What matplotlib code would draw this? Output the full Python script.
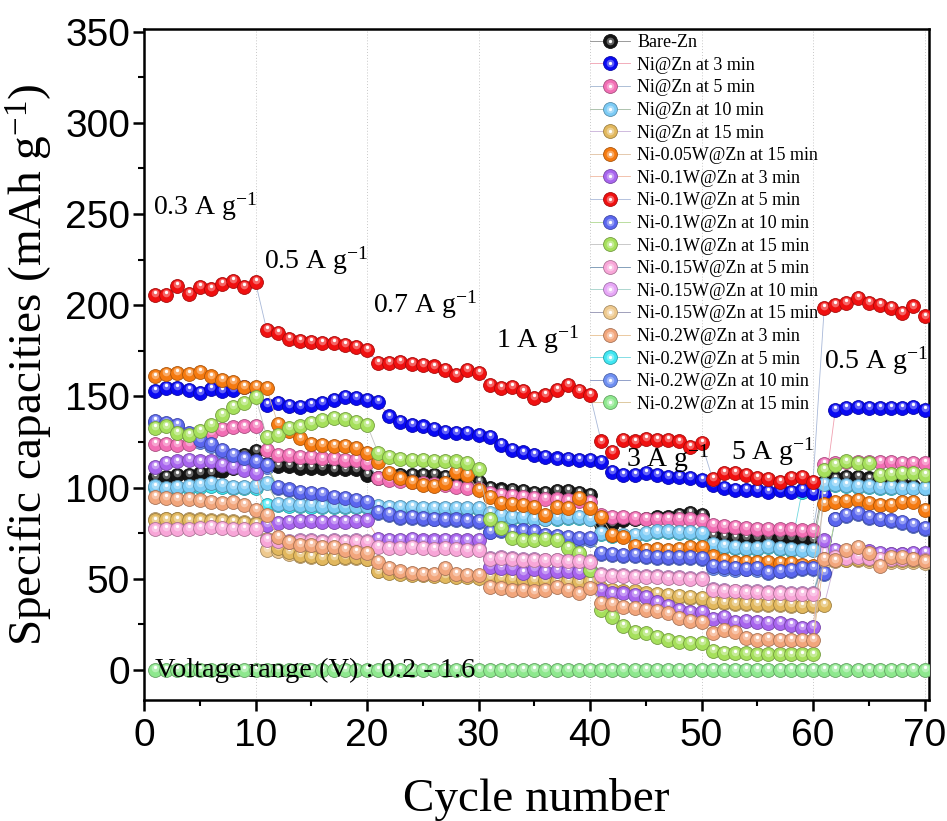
import numpy as np
import matplotlib
matplotlib.use("Agg")
import matplotlib.pyplot as plt
from matplotlib.transforms import offset_copy
from matplotlib.legend_handler import HandlerTuple
from matplotlib.colors import to_rgb

plt.rcParams['font.family'] = 'Liberation Sans'
plt.rcParams['mathtext.fontset'] = 'custom'
plt.rcParams['mathtext.rm'] = 'Liberation Serif'

cycles = np.arange(1, 71)

# specific capacity (mAh/g) per cycle, 10 cycles per rate step
bare_zn = [106, 106, 107, 107, 108, 108, 109, 111, 118, 120,
           113, 112, 112, 111, 111, 111, 110, 110, 110, 107,
           105, 106, 107, 107, 107, 107, 106, 107, 106, 103,
           100, 99, 98.5, 98, 97, 97, 98, 98, 97, 96,
           80, 80, 82, 83, 83, 84, 84, 85, 86, 85,
           73.5, 73, 72.5, 72.5, 72.5, 72.5, 72.5, 72.5, 72, 71.5,
           103, 105, 106, 106, 105, 104, 103, 102, 101, 100]
ni_3 = [153, 154.5, 154.5, 153.5, 152, 154, 153, 153.5, 155, 154,
        145.4, 146.3, 144.8, 144.1, 145.4, 146.3, 148.1, 149.9, 149, 148.1,
        146.8, 139, 136, 134.4, 133.5, 132, 130.5, 130.1, 130.1, 129,
        128, 123.4, 120.7, 119.3, 118, 117, 116, 115.5, 115, 115,
        114.2, 108.8, 107.1, 107, 107.9, 107, 106, 106, 105.1, 104.2,
        101.5, 99.7, 98.7, 98.7, 98.7, 97.8, 98.7, 97.8, 98.7, 97,
        96, 142.6, 143.5, 144.4, 143.5, 143.5, 143.5, 143.5, 144.4, 142.6]
ni_5 = [124, 124, 123.5, 124, 127, 130, 132, 133, 133.5, 134,
        120.7, 118, 118, 117, 117, 116, 116, 115.2, 115, 113.4,
        105, 104, 103.5, 103, 102.5, 102, 101.5, 100.5, 99.5, 99,
        97, 96, 95.5, 95, 94.5, 94, 93.5, 93, 92.5, 92,
        85, 84, 84, 83.5, 83, 83, 83, 83, 82.5, 82,
        79.5, 79, 78.5, 78, 77.5, 77.5, 77, 77, 76.5, 76.5,
        113, 113.5, 114, 114, 114, 114, 114, 113.5, 113.5, 113.5]
ni_10 = [100.6, 99.7, 100.2, 100.8, 101.5, 102.4, 101.5, 100.2, 100.2, 101,
         102.5, 91, 91, 90.5, 90.5, 90, 90, 90, 90, 90,
         90, 89.5, 89.5, 89.5, 89, 89, 89, 89, 88.7, 88.7,
         86, 85, 84, 84, 83, 83, 83.5, 84, 84, 83,
         75, 74, 74, 74, 75, 76, 76, 75.5, 75.5, 75,
         69, 68, 67.5, 67, 67, 68, 67, 66.5, 66, 66,
         102, 102, 101.5, 101, 101, 100.5, 100.5, 100, 100, 100]
ni_15 = [82, 82.5, 82.5, 82, 82, 81.5, 81.5, 81, 80.5, 80,
         72, 66.8, 64.9, 63.1, 62.2, 61.3, 61.3, 61.8, 61.8, 60.7,
         54, 53, 52.5, 52, 52, 51.5, 51.5, 51, 51, 50.5,
         51, 50.5, 50, 50, 49.5, 49.5, 49, 49, 48.5, 48.5,
         45, 44, 43, 43, 42, 41.5, 41, 40.5, 40, 39.5,
         37.5, 37, 36.5, 36.5, 36, 36, 36, 35.5, 35, 35.5,
         35.7, 60, 60.5, 61, 61, 60.5, 60, 60, 60, 59.5]
ni005w_15 = [161, 162.4, 163, 162.4, 163.6, 161, 159, 158, 155, 155,
             154.5, 135, 131, 127, 124, 123.4, 122.8, 122.8, 121.8, 119,
             114, 108, 105, 103.3, 101.5, 101, 102.4, 108.8, 107, 98.7,
             95, 91.4, 91, 90.5, 89.6, 85, 89.6, 88.7, 94.2, 88.7,
             84, 74, 73, 68, 66, 66.5, 66, 66.5, 67.5, 67.5,
             62.2, 60.3, 59.4, 59.4, 59.4, 59.4, 58.5, 58.5, 57.6, 57,
             91, 92, 92.5, 93.3, 91.5, 90.5, 90.5, 92.3, 92.3, 87.8]
ni01w_3 = [111.5, 113.4, 114.3, 115.2, 114.3, 114.3, 112.5, 111.5, 109.7, 107.9,
           79.5, 80.5, 81, 81.5, 81.5, 81, 81, 81, 81.5, 82,
           72, 71.5, 71.5, 72, 71, 71, 71.5, 71, 71, 71.3,
           56.7, 56, 55.8, 53, 55.5, 53.9, 54.5, 54.5, 53.9, 54.9,
           44, 42, 42, 41, 40, 37, 35, 33, 32, 32,
           28, 29.2, 26.5, 27, 26.5, 25.6, 25.6, 24.7, 22.9, 23.8,
           71, 66, 64, 63, 65, 64, 63.5, 63.5, 64, 64]
ni01w_5 = [205.7, 205.7, 210.6, 206.3, 210, 208.9, 211.7, 213.4, 210, 212.6,
           186.5, 184.7, 181.4, 180.6, 180.1, 179.5, 179.2, 178.3, 177, 175.5,
           168.5, 168.5, 169, 168, 167.3, 166.4, 164.6, 161.8, 164.6, 162.7,
           156.3, 154.5, 155.4, 152.8, 149, 150.9, 153.6, 156.3, 152.8, 150.9,
           125.3, 119.7, 126.2, 125.3, 126.5, 126, 126, 125.3, 122.5, 124.3,
           104.6, 107.9, 107.9, 107, 105.1, 104.6, 103.3, 105.1, 106, 103.3,
           198.4, 200.2, 201.1, 203.9, 201.1, 200.2, 198.4, 195.6, 199.3, 193.9]
ni01w_10 = [136.5, 135.5, 134.5, 130, 126, 124, 120.5, 118, 116, 114.3,
            112.5, 100.2, 99, 97.8, 97, 96.5, 95, 94.5, 93.3, 92.3,
            86.5, 85.5, 84, 84, 83.5, 83, 82.5, 82.5, 82, 81.5,
            75.9, 76.5, 76, 76.5, 76, 74.1, 73.5, 72.8, 72.2, 72.2,
            64, 63.5, 63, 63, 62.5, 62, 62, 62, 62, 61.5,
            57, 56.7, 56, 55.5, 56, 53.5, 54.5, 55, 56, 56,
            53, 83, 85, 86, 84, 83, 82, 81, 79.5, 77.7]
ni01w_15 = [132.6, 133.5, 129.8, 128.9, 131, 134.4, 139.9, 144.4, 146.3, 149.9,
            128, 128.9, 132.6, 133.5, 135.4, 137.1, 138.1, 137.5, 136.2, 134.4,
            119, 117, 115.5, 115, 115, 114.5, 114.5, 114.3, 113.4, 110,
            82.5, 78, 72.5, 71, 71, 72, 71.5, 67, 64, 55,
            33, 29, 24, 21, 20, 18, 16.5, 15.5, 15, 15,
            10.5, 9.5, 9, 9, 8.5, 8.5, 8.5, 8.5, 8.5, 8.5,
            109.7, 112.5, 114.3, 113.7, 113.4, 107, 107.5, 107.9, 107.9, 107]
ni015w_5 = [77, 77.5, 77.5, 77.5, 78, 78.5, 78, 77.5, 77.5, 77.5,
            71.5, 70.5, 70, 70.5, 70.5, 70, 70.5, 70, 70.5, 70,
            67.5, 67, 67, 67.5, 67, 66.5, 67, 66.5, 66, 66,
            61, 61.5, 61, 60.5, 60.5, 60, 60, 59.5, 59.5, 59,
            52, 51.5, 51.5, 51, 51, 51, 50.5, 50.5, 50, 50,
            44, 43.5, 43, 42.5, 42.5, 42, 42, 41.5, 41.5, 41.5,
            61, 62, 61.5, 62, 61.5, 61, 61, 61, 61, 60.5]
ni015w_10 = [78, 78.5, 78.5, 78.5, 79, 79, 79, 78.5, 78.5, 78,
             71, 71, 70.5, 71, 71, 70.5, 71, 70.5, 71, 70.5,
             68, 67.5, 67.5, 68, 67.5, 67, 67.5, 67, 66.5, 66.5,
             61.5, 62, 61.5, 61, 61, 60.5, 60.5, 60, 60, 59.5,
             52.5, 52, 52, 51.5, 51.5, 51.5, 51, 51, 50.5, 50.5,
             44.5, 44, 43.5, 43, 43, 42.5, 42.5, 42, 42, 42,
             64, 64.5, 64, 64.5, 64, 63.5, 63.5, 63.5, 63.5, 63]
ni015w_15 = [82.5, 83, 83, 82.5, 82.5, 82, 82, 81.5, 81, 80.5,
             66, 65, 63.5, 62.5, 62, 61.5, 61.5, 61.5, 61.5, 61,
             54.5, 53.5, 53, 52.5, 52.5, 52, 52, 51.5, 51.5, 51,
             50.5, 50, 49.5, 49.5, 49, 49, 48.5, 48.5, 48, 48,
             44.5, 43.5, 42.5, 42.5, 41.5, 41, 40.5, 40, 39.5, 39,
             37, 36.5, 36, 36, 35.5, 35.5, 35.5, 35, 35, 35,
             59, 59.5, 60, 60, 59.5, 59.5, 59, 59, 59, 58.5]
ni02w_3 = [95, 94.5, 94, 93.6, 93, 92.3, 91.4, 92, 90.5, 87.8,
           85, 73, 70.4, 68.6, 68.6, 67.6, 67.6, 65.8, 64.9, 64,
           59.4, 55.8, 54, 53, 52.5, 52.5, 56, 52.5, 52, 52,
           45.7, 45, 43.9, 43.9, 43, 43.9, 45.7, 43.9, 42, 44.8,
           36.6, 36, 34.7, 34, 33, 32.5, 31, 28.5, 27, 26.5,
           20, 22, 21, 17.5, 16.5, 17, 16.5, 16.5, 16.5, 16.5,
           61, 60, 65.8, 67.6, 64, 57, 62, 62, 61, 59.5]
ni02w_5 = [99.5, 99, 99.5, 100, 100.5, 101, 100.5, 99.5, 99.5, 100,
           90.5, 90.5, 90, 90, 89.5, 89.5, 89.5, 89.5, 89.5, 89.5,
           89.5, 89, 89, 89, 88.5, 88.5, 88.5, 88.5, 88, 88,
           85, 84.5, 83.5, 83.5, 82.5, 82.5, 83, 83.5, 83.5, 82.5,
           74.5, 73.5, 73.5, 73.5, 74.5, 75.5, 75.5, 75, 75, 74.5,
           68.5, 67.5, 67, 66.5, 66.5, 67.5, 66.5, 66, 97.5, 98.5,
           101.5, 101.5, 101, 100.5, 100.5, 100, 100, 99.5, 99.5, 99.5]
ni02w_10 = [135.5, 134.5, 133.5, 129, 125, 123, 119.5, 117, 115, 113.5,
            111.5, 99.5, 98.5, 97, 96.5, 95.5, 94.5, 94, 92.5, 91.5,
            86, 85, 83.5, 83.5, 83, 82.5, 82, 82, 81.5, 81,
            75.5, 76, 75.5, 76, 75.5, 73.5, 73, 72.5, 71.5, 71.5,
            63.5, 63, 62.5, 62.5, 62, 61.5, 61.5, 61.5, 61.5, 61,
            56, 55.5, 55, 55.5, 55, 53, 54, 54.5, 55.5, 55.5,
            52.5, 82.5, 84.5, 85.5, 83.5, 82.5, 81.5, 80.5, 79, 77]
ni02w_15 = [0, 0, 0, 0, 0, 0, 0, 0, 0, 0,
            0, 0, 0, 0, 0, 0, 0, 0, 0, 0,
            0, 0, 0, 0, 0, 0, 0, 0, 0, 0,
            0, 0, 0, 0, 0, 0, 0, 0, 0, 0,
            0, 0, 0, 0, 0, 0, 0, 0, 0, 0,
            0, 0, 0, 0, 0, 0, 0, 0, 0, 0,
            0, 0, 0, 0, 0, 0, 0, 0, 0, 0]

labels = ['Bare-Zn', 'Ni@Zn at 3 min', 'Ni@Zn at 5 min', 'Ni@Zn at 10 min',
          'Ni@Zn at 15 min', 'Ni-0.05W@Zn at 15 min', 'Ni-0.1W@Zn at 3 min',
          'Ni-0.1W@Zn at 5 min', 'Ni-0.1W@Zn at 10 min', 'Ni-0.1W@Zn at 15 min',
          'Ni-0.15W@Zn at 5 min', 'Ni-0.15W@Zn at 10 min', 'Ni-0.15W@Zn at 15 min',
          'Ni-0.2W@Zn at 3 min', 'Ni-0.2W@Zn at 5 min', 'Ni-0.2W@Zn at 10 min',
          'Ni-0.2W@Zn at 15 min']
series = [bare_zn, ni_3, ni_5, ni_10, ni_15, ni005w_15, ni01w_3, ni01w_5,
          ni01w_10, ni01w_15, ni015w_5, ni015w_10, ni015w_15, ni02w_3,
          ni02w_5, ni02w_10, ni02w_15]

ball_colors = ['#151515', '#0a0af2', '#f26fb5', '#7ccbf5', '#e2b85e', '#f57a10',
               '#a865ee', '#f01010', '#5a66ee', '#a6e05c', '#f8a6d8', '#e6a6f6',
               '#eec98e', '#f2a67c', '#3ee6f2', '#6e8ff2', '#8ee88e']
line_colors = ['#8a8a8a', '#f0a0b0', '#a0b4d0', '#a0b8a0', '#c8b0d8', '#e0c0a0',
               '#f0b8a0', '#a8b8d8', '#b0d890', '#c0c0c0', '#7090b0', '#a0d0c8',
               '#9090b0', '#e8c090', '#70d8e0', '#8090c0', '#d8c090']
# series mostly buried under others get drawn first
buried = {11, 12, 14, 15}


def mix(c, f):
    r = np.array(to_rgb(c))
    if f >= 0:
        return tuple(r + (1 - r) * f)
    return tuple(r * (1 + f))


fig = plt.figure(figsize=(9.47, 8.21), dpi=100)
ax = fig.add_axes([0.1521, 0.1474, 0.8289, 0.8173])

glow = offset_copy(ax.transData, fig=fig, x=0, y=1.3, units='points')
spot = offset_copy(ax.transData, fig=fig, x=0, y=2.0, units='points')

order = [i for i in range(len(series)) if i in buried] + \
        [i for i in range(len(series)) if i not in buried]
handles = [None] * len(series)
for k, i in enumerate(order):
    c = ball_colors[i]
    z = 3 + k * 0.1
    base, = ax.plot(cycles, series[i], color=line_colors[i], lw=0.6,
                    marker='o', ms=10, mfc=c, mec=mix(c, -0.3), mew=0.6, zorder=z)
    mid, = ax.plot(cycles, series[i], ls='none', marker='o', ms=5.5,
                   mfc=mix(c, 0.35), mec='none', transform=glow, zorder=z + 0.01)
    hi, = ax.plot(cycles, series[i], ls='none', marker='o', ms=2.4,
                  mfc='white', mec='none', transform=spot, zorder=z + 0.02)
    handles[i] = (base, mid, hi)

ax.set_xlim(0, 70.4)
ax.set_ylim(-16.5, 351.5)
ax.set_xticks(range(0, 71, 10))
ax.set_xticks(range(5, 71, 10), minor=True)
ax.set_yticks(range(0, 351, 50))
ax.set_yticks(range(25, 351, 50), minor=True)
ax.tick_params(which='major', direction='out', length=8, width=1.8,
               labelsize=28, pad=2)
ax.tick_params(axis='x', which='major', pad=5)
ax.tick_params(which='minor', direction='out', length=4, width=1.5)
for s in ax.spines.values():
    s.set_linewidth(1.8)
ax.xaxis.grid(True, which='major', ls=(0, (1, 2)), color='#c8c8c8', lw=0.7)
ax.set_axisbelow(True)

serif = 'Liberation Serif'
sup = r'$\mathregular{^{-1}}$'
ax.set_xlabel('Cycle number', family=serif, fontsize=34, labelpad=17)
ax.set_ylabel('Specific capacities (mAh g' + sup + ')', family=serif,
              fontsize=34, labelpad=7)

rates = [(0.84, 249.6, '0.3'), (10.74, 220.3, '0.5'), (20.5, 195.7, '0.7'),
         (31.6, 177, '1'), (43.2, 111.5, '3'), (52.6, 115.2, '5'),
         (61, 165.5, '0.5')]
for x, y, r in rates:
    ax.text(x, y, r + ' A g' + sup, family=serif, fontsize=20,
            va='baseline', ha='left', zorder=20)
ax.text(1.0, -3.7, 'Voltage range (V) : 0.2 - 1.6', family=serif, fontsize=20.5,
        va='baseline', ha='left', zorder=20)

leg = ax.legend(handles, labels, loc='upper left', bbox_to_anchor=(0.566, 0.995),
                frameon=False, prop={'family': serif, 'size': 13},
                handlelength=2.2, handletextpad=0.4, labelspacing=0.31,
                borderpad=0.1, borderaxespad=0, numpoints=1,
                handler_map={tuple: HandlerTuple(ndivide=1)})
leg.set_zorder(2)

fig.savefig('out.png', dpi=100)
